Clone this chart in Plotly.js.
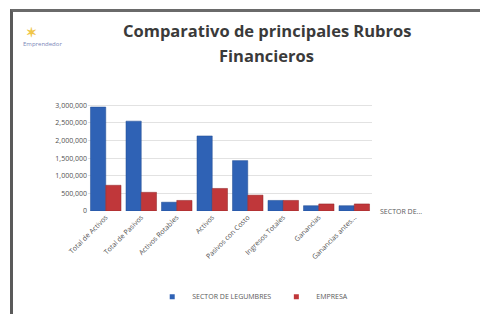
<!DOCTYPE html>
<html>
<head>
<meta charset="utf-8">
<script src="https://cdn.plot.ly/plotly-3.0.1.min.js"></script>
<style>
html,body{margin:0;padding:0;background:#fff;}
#wrap{position:relative;width:480px;height:314px;overflow:hidden;}
#chart{position:absolute;left:0;top:0;width:480px;height:314px;}
#frame{position:absolute;left:10px;top:9px;width:480px;height:320px;border-left:3px solid #5a5a5a;border-top:3px solid #6a6a6a;pointer-events:none;}
</style>
</head>
<body>
<div id="wrap">
<div id="chart"></div>
<div id="frame"></div>
</div>
<script>
var categories = ["Total de Activos", "Total de Pasivos", "Activos Rotables", "Activos", "Pasivos con Costo", "Ingresos Totales", "Ganancias", "Ganancias antes..."];
var seriesSector = [2950000, 2550000, 250000, 2130000, 1430000, 300000, 150000, 150000];
var seriesEmpresa = [730000, 530000, 300000, 640000, 450000, 300000, 200000, 200000];
var nameSector = "SECTOR DE LEGUMBRES";
var nameEmpresa = "EMPRESA";
var yTicks = [0, 500000, 1000000, 1500000, 2000000, 2500000, 3000000];
var titleLines = ["Comparativo de principales Rubros", "Financieros"];
var colorSector = "#2f62b5";
var colorEmpresa = "#c0373a";

var traces = [
  {type: "bar", x: categories, y: seriesSector, name: nameSector, showlegend: false,
   marker: {color: colorSector, line: {color: "#1f4a91", width: 0.5}}},
  {type: "bar", x: categories, y: seriesEmpresa, name: nameEmpresa, showlegend: false,
   marker: {color: colorEmpresa, line: {color: "#8f2426", width: 0.5}}},
  {type: "scatter", mode: "markers", x: [null], y: [null], name: nameSector,
   marker: {symbol: "square", size: 5, color: colorSector}},
  {type: "scatter", mode: "markers", x: [null], y: [null], name: nameEmpresa,
   marker: {symbol: "square", size: 5, color: colorEmpresa}}
];

var FONT = "Open Sans, Liberation Sans, sans-serif";
var layout = {
  width: 480, height: 314,
  margin: {l: 88, r: 108, t: 100, b: 103},
  paper_bgcolor: "#ffffff", plot_bgcolor: "#ffffff",
  barmode: "group", bargap: 0.14, bargroupgap: 0,
  font: {family: FONT, color: "#595959", size: 7},
  xaxis: {type: "category", tickangle: -45, color: "#595959",
          tickfont: {size: 7, color: "#505050"},
          showgrid: false, showline: false, ticks: "", automargin: false},
  yaxis: {range: [0, 3150000], tickvals: yTicks, tickformat: ",d", color: "#595959",
          tickfont: {size: 7, color: "#505050"}, showgrid: true, gridcolor: "#e2e2e2",
          zeroline: false, showline: false, ticks: "", automargin: false},
  legend: {orientation: "h", x: 0.58, xanchor: "center", yref: "container", y: 0.055, yanchor: "middle",
           font: {size: 7, color: "#595959"}, itemwidth: 30, tracegroupgap: 0},
  annotations: [
    {text: "<b>" + titleLines[0] + "</b>", xref: "paper", yref: "paper", x: 0.63, y: 1.0, yshift: 70,
     xanchor: "center", yanchor: "middle", showarrow: false, font: {family: FONT, size: 16.5, color: "#3a3a3a"}},
    {text: "<b>" + titleLines[1] + "</b>", xref: "paper", yref: "paper", x: 0.63, y: 1.0, yshift: 45,
     xanchor: "center", yanchor: "middle", showarrow: false, font: {family: FONT, size: 16.5, color: "#3a3a3a"}},
    {text: nameSector.slice(0, 9) + "...", xref: "paper", yref: "paper", x: 1.02, y: 0.0,
     xanchor: "left", yanchor: "middle", showarrow: false, font: {size: 7, color: "#595959"}},
    {text: "<b>✶</b>", xref: "paper", yref: "paper", x: -0.2, y: 1.0, yshift: 68, xanchor: "center",
     yanchor: "middle", showarrow: false, font: {size: 13, color: "#f0c64a"}},
    {text: "Emprendedor", xref: "paper", yref: "paper", x: -0.235, y: 1.0, yshift: 56, xanchor: "left",
     yanchor: "middle", showarrow: false, font: {size: 6, color: "#7a86b8"}}
  ]
};

Plotly.newPlot("chart", traces, layout, {displayModeBar: false, staticPlot: true});
</script>
</body>
</html>
